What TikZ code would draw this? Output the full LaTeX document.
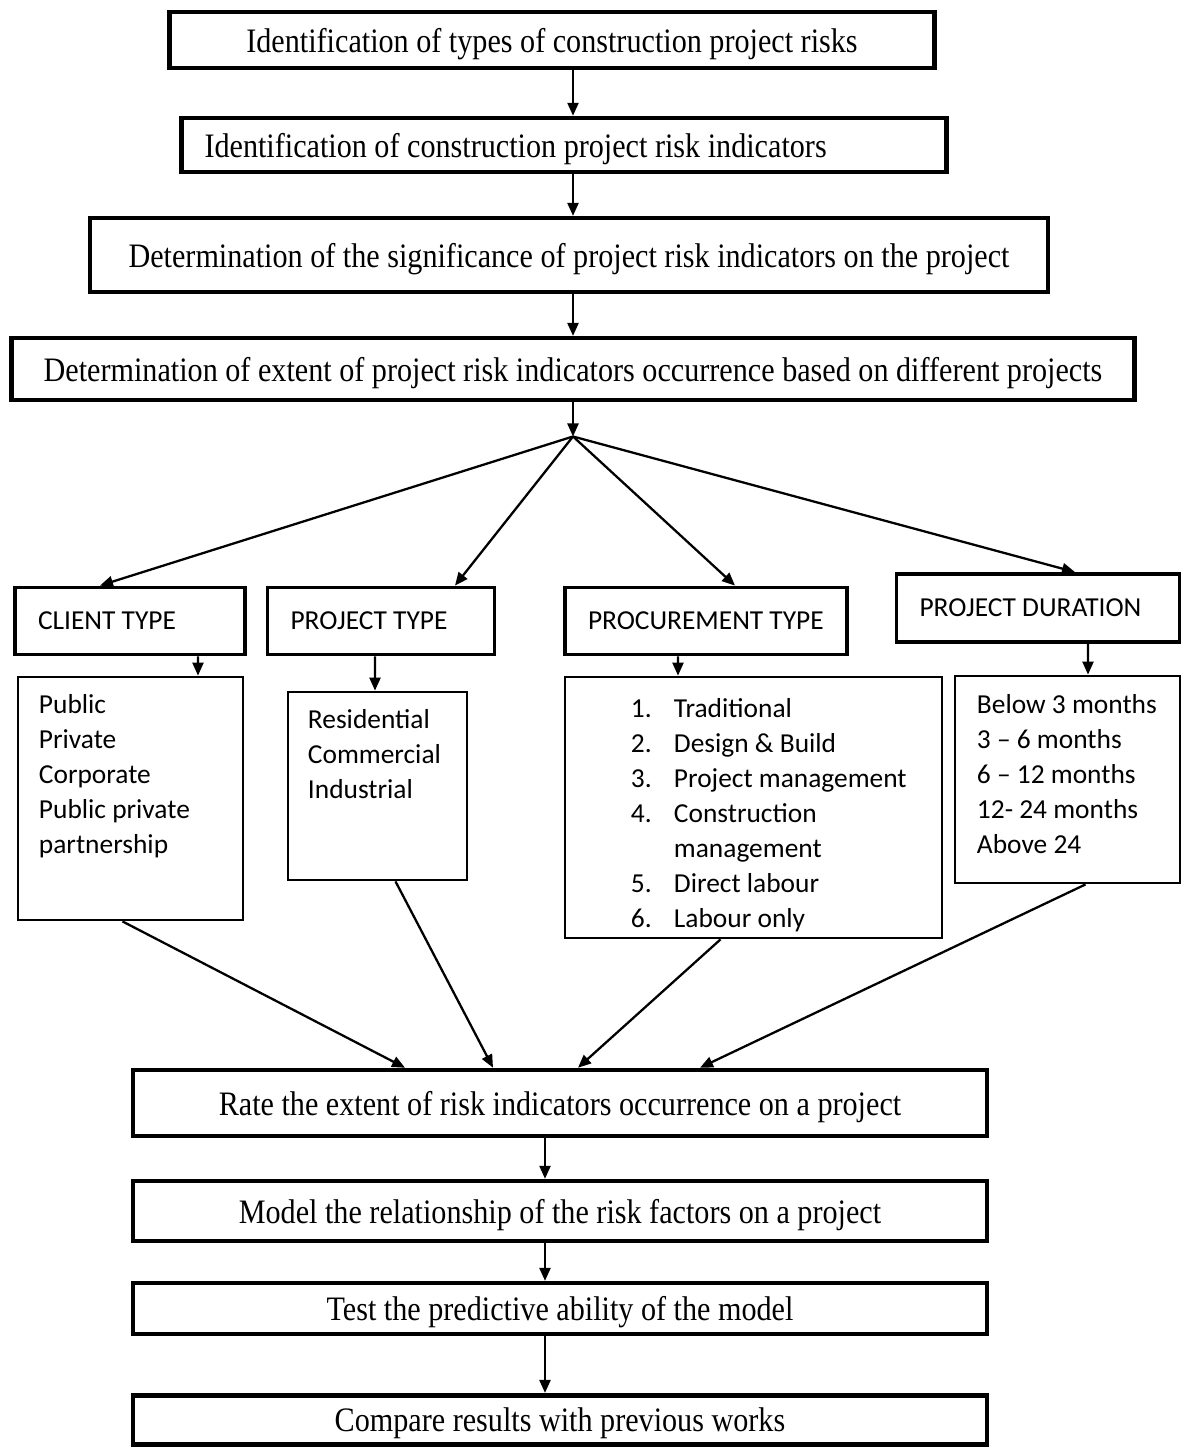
\documentclass[tikz,border=0pt]{standalone}
\usepackage{fontspec}
\usepackage{tikz}
\usetikzlibrary{arrows.meta,positioning}
\newfontfamily\stagefont[FakeStretch=0.88]{Liberation Serif}
\newfontfamily\groupfont{Carlito}
\newcommand{\numitem}[1]{\makebox[0.86cm][l]{#1}}
\newcommand{\lefttext}[2]{\makebox[#1][l]{#2}}

\begin{document}
\begin{tikzpicture}[
    stage/.style={draw,line width=2.6pt,minimum width=17.08cm,text depth=0pt,
      font=\fontsize{19.5}{23}\stagefont},
    group/.style={draw,line width=2.2pt,minimum height=1.34cm,inner xsep=0.46cm,
      font=\fontsize{15.6}{19.9}\groupfont},
    listbox/.style={draw,line width=1.6pt},
    itemtext/.style={align=left,inner sep=0pt,anchor=north west,
      font=\fontsize{15.6}{19.9}\groupfont},
    flow/.style={-{Triangle[length=2.6mm,width=2.2mm]},line width=1.3pt}
  ]
    \useasboundingbox (0,0) rectangle (23.64,-28.96);

    % upper chain
    \node[stage,minimum width=15.3cm,minimum height=1.12cm] (idtypes) at (11.04,-0.80)
      {Identification of types of construction project risks};
    \node[stage,minimum width=15.3cm,minimum height=1.08cm,inner xsep=0.46cm,
      below=0.91cm of idtypes,xshift=2.4mm] (idind)
      {\lefttext{14.38cm}{Identification of construction project risk indicators}};
    \node[stage,minimum width=19.16cm,minimum height=1.48cm,
      below=0.83cm of idind,xshift=1mm] (signif)
      {Determination of the significance of project risk indicators on the project};
    \node[stage,minimum width=22.46cm,minimum height=1.24cm,
      below=0.83cm of signif,xshift=0.8mm] (extent)
      {Determination of extent of project risk indicators occurrence based on different projects};
    \coordinate[below=0.68cm of extent.south] (hub);

    % groups
    \node[group,minimum width=4.6cm] (client) at (2.60,-12.42)
      {\lefttext{3.68cm}{CLIENT TYPE}};
    \node[group,minimum width=4.54cm] (projtype) at (7.62,-12.42)
      {\lefttext{3.62cm}{PROJECT TYPE}};
    \node[group,minimum width=5.64cm] (procure) at (14.12,-12.42)
      {\lefttext{4.72cm}{PROCUREMENT TYPE}};
    \node[group,minimum width=5.66cm,minimum height=1.36cm] (duration) at (20.76,-12.16)
      {\lefttext{4.74cm}{PROJECT DURATION}};

    % lists
    \node[listbox,minimum width=4.5cm,minimum height=4.86cm] (clientlist) at (2.61,-15.97) {};
    \node[listbox,minimum width=3.58cm,minimum height=3.76cm] (projlist) at (7.55,-15.72) {};
    \node[listbox,minimum width=7.54cm,minimum height=5.22cm] (proclist) at (15.07,-16.15) {};
    \node[listbox,minimum width=4.5cm,minimum height=4.14cm] (durlist) at (21.35,-15.59) {};

    \node[itemtext] (clienttext) at ([xshift=4.4mm,yshift=-3.8mm]clientlist.north west)
      {Public\\Private\\Corporate\\Public private\\partnership};
    \node[itemtext] (projtext) at ([xshift=4.2mm,yshift=-3.8mm]projlist.north west)
      {Residential\\Commercial\\Industrial};
    \node[itemtext] (proctext) at ([xshift=13.4mm,yshift=-4.6mm]proclist.north west)
      {\numitem{1.}Traditional\\\numitem{2.}Design \& Build\\\numitem{3.}Project management\\
       \numitem{4.}Construction\\\numitem{}management\\\numitem{5.}Direct labour\\
       \numitem{6.}Labour only};
    \node[itemtext] (durtext) at ([xshift=4.6mm,yshift=-4.0mm]durlist.north west)
      {Below 3 months\\3 – 6 months\\6 – 12 months\\12- 24 months\\Above 24};

    % lower chain
    \node[stage,minimum height=1.32cm] (rate) at (11.2,-22.06)
      {Rate the extent of risk indicators occurrence on a project};
    \node[stage,minimum height=1.2cm,below=0.81cm of rate] (model)
      {Model the relationship of the risk factors on a project};
    \node[stage,minimum height=1.02cm,below=0.75cm of model] (test)
      {Test the predictive ability of the model};
    \node[stage,minimum height=0.98cm,below=1.13cm of test] (compare)
      {Compare results with previous works};

    \draw[flow] (idtypes.south -| hub) -- (idind.north -| hub);
    \draw[flow] (idind.south -| hub) -- (signif.north -| hub);
    \draw[flow] (signif.south -| hub) -- (extent.north -| hub);
    \draw[flow] (extent.south) -- (hub);

    \draw[flow] (hub) -- ([xshift=-6mm]client.north);
    \draw[flow] (hub) -- ([xshift=14.8mm]projtype.north);
    \draw[flow] (hub) -- ([xshift=5.8mm]procure.north);
    \draw[flow] (hub) -- ([xshift=7.4mm]duration.north);

    \draw[flow] ([xshift=13.6mm]client.south) -- ([xshift=13.5mm]clientlist.north);
    \draw[flow] ([xshift=-1.2mm]projtype.south) -- ([xshift=-0.5mm]projlist.north);
    \draw[flow] ([xshift=-5.6mm]procure.south) -- ([xshift=-15.1mm]proclist.north);
    \draw[flow] ([xshift=10mm]duration.south) -- ([xshift=4.1mm]durlist.north);

    \draw[flow] ([xshift=-1.6mm]clientlist.south) -- ([xshift=-31mm]rate.north);
    \draw[flow] ([xshift=3.6mm]projlist.south) -- ([xshift=-13.4mm]rate.north);
    \draw[flow] ([xshift=-6.6mm]proclist.south) -- ([xshift=3.6mm]rate.north);
    \draw[flow] ([xshift=3.6mm]durlist.south) -- ([xshift=28mm]rate.north);

    \draw[flow] ([xshift=-3mm]rate.south) -- ([xshift=-3mm]model.north);
    \draw[flow] ([xshift=-3mm]model.south) -- ([xshift=-3mm]test.north);
    \draw[flow] ([xshift=-3mm]test.south) -- ([xshift=-3mm]compare.north);
  \end{tikzpicture}
\end{document}
